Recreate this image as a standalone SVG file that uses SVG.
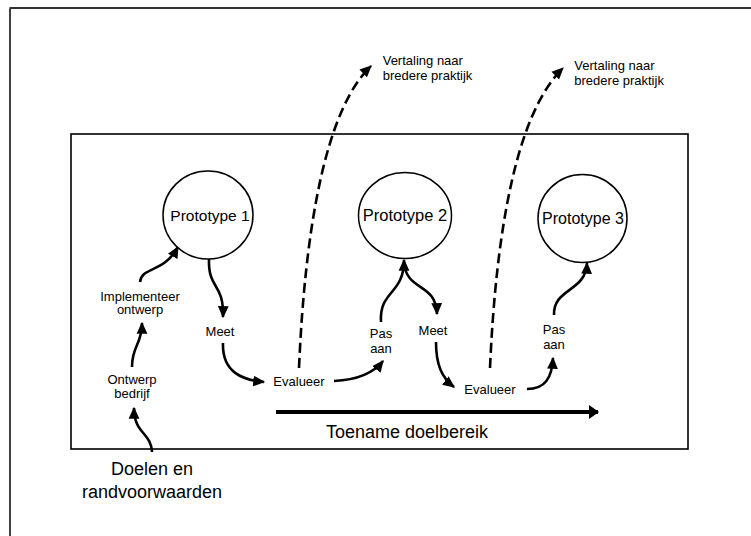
<svg xmlns="http://www.w3.org/2000/svg" width="751" height="536" viewBox="0 0 751 536">
<defs>
<style>
text{font-family:"Liberation Sans",Arial,sans-serif;fill:#000}
.lbl{font-size:13px;text-anchor:middle}
.big{font-size:18px;text-anchor:middle}
.proto{text-anchor:middle}
.node{fill:#fff;stroke:#000;stroke-width:1.5}
.arr{fill:none;stroke:#000;stroke-width:2.6;marker-end:url(#ah)}
.dash{fill:none;stroke:#000;stroke-width:2.6;stroke-dasharray:10 5;marker-end:url(#ah)}
</style>
<marker id="ah" markerUnits="userSpaceOnUse" markerWidth="12" markerHeight="12" viewBox="0 0 10 10" refX="9" refY="5" orient="auto">
<path d="M0,0.5 L10,5 L0,9.5 Z" fill="#000"/>
</marker>
<marker id="bigah" markerUnits="userSpaceOnUse" markerWidth="10" markerHeight="14" viewBox="0 0 10 14" refX="9" refY="7" orient="auto">
<path d="M0,0 L10,7 L0,14 Z" fill="#000"/>
</marker>
</defs>
<rect width="751" height="536" fill="#fff"/>
<path d="M10,536 L10,8.5" fill="none" stroke="#000" stroke-width="1.5"/>
<path d="M9.5,8 L751,8" fill="none" stroke="#333" stroke-width="2.2"/>
<rect id="frame" x="71" y="134" width="617" height="315" fill="none" stroke="#000" stroke-width="1.6"/>

<g id="connectors">
<path class="dash" d="M299,368 C305,230 325,110 371,66"/>
<path class="dash" d="M490,368 C496,232 516,114 563,68"/>
<path class="arr" d="M152,452 C151,432 134,434 134,408"/>
<path class="arr" d="M132,367 C132,345 142,345 142,323"/>
<path class="arr" d="M140,282 C142,266 163,274 178,247"/>
<path class="arr" d="M209,259 C208,290 224,282 223,317"/>
<path class="arr" d="M223,343 C222,372 242,380 264,382"/>
<path class="arr" d="M334,381 C355,380 372,375 383,361"/>
<path class="arr" d="M381,322 C379,290 404,295 404,260"/>
<path class="arr" d="M404,262 C406,292 436,282 437,314"/>
<path class="arr" d="M436,342 C436,365 442,378 454,387"/>
<path class="arr" d="M527,389 C545,389 552,378 553,358"/>
<path class="arr" d="M554,315 C553,288 586,292 587,263"/>
<path d="M276,412 L598,412" fill="none" stroke="#000" stroke-width="4" marker-end="url(#bigah)"/>
</g>

<g id="p1"><ellipse class="node" cx="208" cy="215" rx="45" ry="44"/><text class="proto" x="210" y="220.5" font-size="15.5">Prototype 1</text></g>
<g id="p2"><ellipse class="node" cx="405" cy="215.5" rx="46.5" ry="43"/><text class="proto" x="405" y="220.5" font-size="16.5">Prototype 2</text></g>
<g id="p3"><ellipse class="node" cx="582.5" cy="218.5" rx="44.5" ry="44"/><text class="proto" x="583" y="224" font-size="16">Prototype 3</text></g>

<g id="implementeer"><text class="lbl" x="140" y="300.5">Implementeer</text><text class="lbl" x="140" y="314">ontwerp</text></g>
<g id="ontwerp"><text class="lbl" x="132" y="383.5">Ontwerp</text><text class="lbl" x="132" y="398">bedrijf</text></g>
<g id="doelen"><text class="big" x="152" y="475">Doelen en</text><text class="big" x="152" y="498">randvoorwaarden</text></g>
<g id="meet1"><text class="lbl" x="220" y="335.5">Meet</text></g>
<g id="evalueer1"><text class="lbl" x="299" y="386">Evalueer</text></g>
<g id="pasaan1"><text class="lbl" x="381" y="338">Pas</text><text class="lbl" x="381" y="353">aan</text></g>
<g id="meet2"><text class="lbl" x="433" y="334.5">Meet</text></g>
<g id="evalueer2"><text class="lbl" x="490" y="394">Evalueer</text></g>
<g id="pasaan2"><text class="lbl" x="554" y="333.5">Pas</text><text class="lbl" x="554" y="348.5">aan</text></g>
<g id="vertaling1"><text x="382.7" y="65" font-size="13">Vertaling naar</text><text x="382.7" y="80" font-size="13">bredere praktijk</text></g>
<g id="vertaling2"><text x="574.3" y="70" font-size="13">Vertaling naar</text><text x="574.3" y="85" font-size="13">bredere praktijk</text></g>
<g id="toename"><text class="big" x="407" y="437.7">Toename doelbereik</text></g>
</svg>
